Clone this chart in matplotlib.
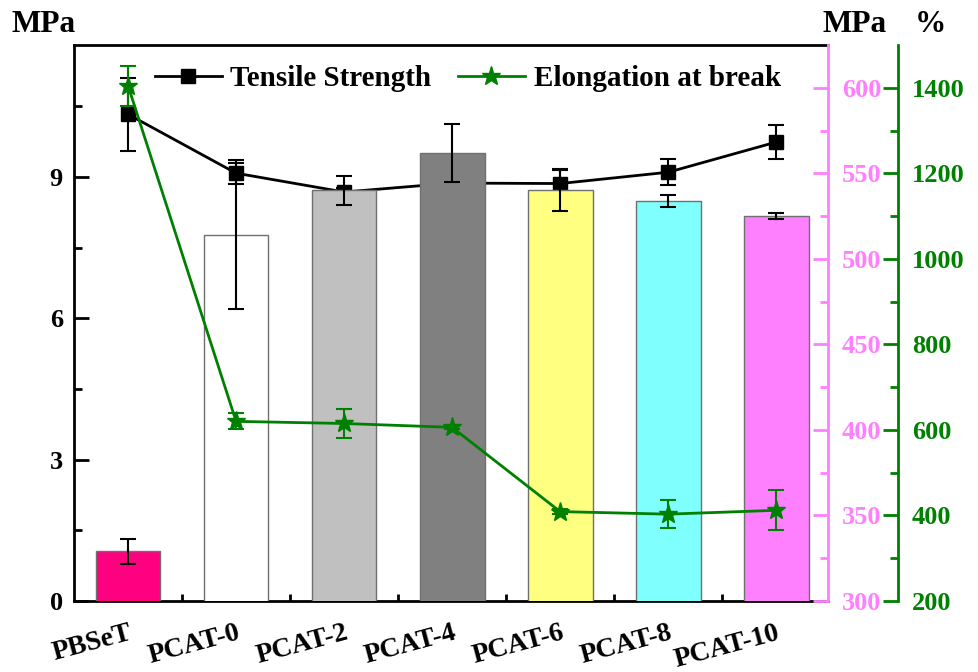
import matplotlib
matplotlib.use("Agg")
import matplotlib.pyplot as plt
from matplotlib.lines import Line2D
import numpy as np

plt.rcParams['font.family'] = ['Liberation Serif', 'DejaVu Serif']
plt.rcParams['font.weight'] = 'bold'

# Samples
samples = ['PBSeT', 'PCAT-0', 'PCAT-2', 'PCAT-4', 'PCAT-6', 'PCAT-8', 'PCAT-10']

# Tensile strength (left axis, MPa)
tensile = [10.33, 9.08, 8.68, 8.87, 8.86, 9.10, 9.74]
tensile_err = [0.77, 0.22, 0.08, 0.30, 0.30, 0.28, 0.36]

# Bars (magenta axis, MPa)
modulus = [329, 514, 540, 562, 540, 534, 525]
modulus_err = [7.3, 43.5, 8.6, 17.1, 12.0, 3.5, 1.8]

# Elongation at break (green axis, %)
elong = [1405, 620, 615, 606, 409, 403, 412]
elong_err = [47, 19, 35, 5, 5, 33, 47]

bar_colors = ['#FF0080', '#FFFFFF', '#C0C0C0', '#808080', '#FFFF80', '#80FFFF', '#FF80FF']
pink = '#FF80FF'
green = '#008000'

x = np.arange(len(samples))

fig = plt.figure(figsize=(9.79, 6.72), dpi=100)
ax1 = fig.add_axes([0.0756, 0.1057, 0.7702, 0.8273])
ax2 = ax1.twinx()
ax3 = ax1.twinx()
ax3.spines['right'].set_position(('outward', 50.4))  # 70 px

# tensile strength line (drawn below the bars)
ax1.errorbar(x, tensile, yerr=tensile_err, color='black', lw=2,
             marker='s', markersize=10, capsize=6, capthick=1.5,
             elinewidth=1.5)

# bars
ax2.bar(x, modulus, width=0.6, color=bar_colors, edgecolor='#707070',
        linewidth=1, yerr=modulus_err, capsize=6,
        error_kw=dict(elinewidth=1.5, capthick=1.5, ecolor='black'))

# elongation line
ax3.errorbar(x, elong, yerr=elong_err, color=green, lw=2,
             marker='*', markersize=14, capsize=6, capthick=1.5,
             elinewidth=1.5)

ax1.set_xlim(-0.5, 6.48)
ax1.set_ylim(0, 11.8)
ax2.set_ylim(300, 625)
ax3.set_ylim(200, 1500)

ax1.set_yticks([0, 3, 6, 9])
ax1.set_yticks(np.arange(1.5, 11.8, 3), minor=True)
ax2.set_yticks(np.arange(300, 601, 50))
ax2.set_yticks(np.arange(325, 625, 50), minor=True)
ax3.set_yticks(np.arange(200, 1401, 200))
ax3.set_yticks(np.arange(300, 1500, 200), minor=True)

ax1.set_xticks(x)
ax1.set_xticklabels(samples, rotation=15, ha='right', rotation_mode='anchor',
                    fontsize=20, fontweight='bold')
ax1.set_xticks(x[:-1] + 0.5, minor=True)
ax1.tick_params(axis='x', which='major', length=0, pad=14)
ax1.tick_params(axis='x', which='minor', direction='in', length=5, width=2)
ax1.tick_params(axis='y', which='major', direction='in', length=11, width=2,
                labelsize=19, pad=8)
ax1.tick_params(axis='y', which='minor', direction='in', length=6, width=2)

ax2.tick_params(axis='y', which='major', direction='in', length=11, width=2,
                colors=pink, labelsize=19, pad=10)
ax2.tick_params(axis='y', which='minor', direction='in', length=6, width=2,
                colors=pink)
ax3.tick_params(axis='y', which='major', direction='in', length=11, width=2,
                colors=green, labelsize=19, pad=10)
ax3.tick_params(axis='y', which='minor', direction='in', length=6, width=2,
                colors=green)

for sp in ['left', 'bottom', 'top']:
    ax1.spines[sp].set_linewidth(2)
ax1.spines['right'].set_visible(False)
for a in (ax2, ax3):
    a.spines['left'].set_visible(False)
    a.spines['top'].set_visible(False)
    a.spines['bottom'].set_visible(False)
ax2.spines['right'].set_color(pink)
ax2.spines['right'].set_linewidth(2)
ax3.spines['right'].set_color(green)
ax3.spines['right'].set_linewidth(2)

for lab in ax1.get_yticklabels() + ax2.get_yticklabels() + ax3.get_yticklabels():
    lab.set_fontweight('bold')

h1 = Line2D([], [], color='black', lw=2, marker='s', markersize=10)
h3 = Line2D([], [], color=green, lw=2, marker='*', markersize=14)
ax3.legend(handles=[h1, h3], labels=['Tensile Strength', 'Elongation at break'],
           loc='center left', bbox_to_anchor=(0.072, 0.94),
           ncol=2, frameon=False, fontsize=21, handlelength=2.3,
           handletextpad=0.3, columnspacing=0.9)

fig.text(12 / 979, 1 - 24 / 672, 'MPa', fontsize=22.5, fontweight='bold',
         va='center', ha='left')
fig.text(823 / 979, 1 - 24 / 672, 'MPa', fontsize=22.5, fontweight='bold',
         va='center', ha='left')
fig.text(915 / 979, 1 - 24 / 672, '%', fontsize=22.5, fontweight='bold',
         va='center', ha='left')

fig.savefig('out.png', dpi=100)
